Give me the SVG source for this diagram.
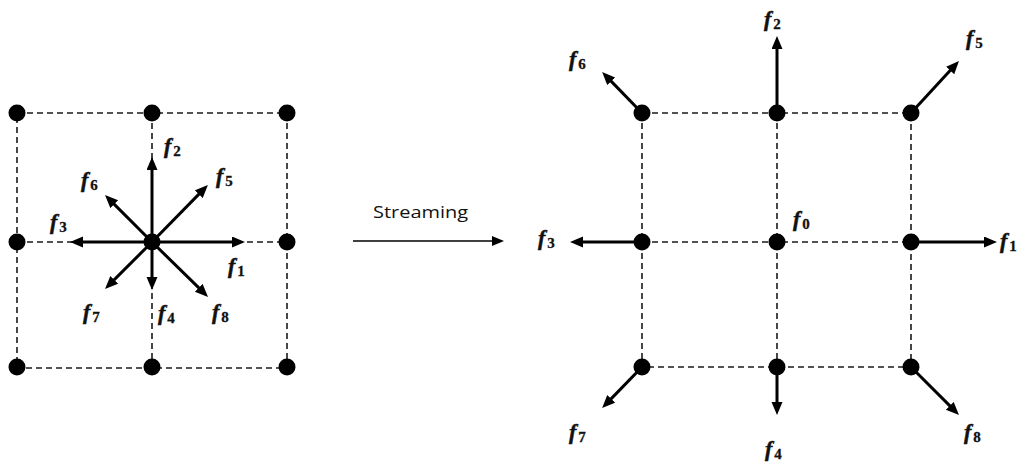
<svg xmlns="http://www.w3.org/2000/svg" width="1026" height="466" viewBox="0 0 1026 466">
<defs>
<style>
.grid{stroke:#1a1a1a;stroke-width:1.6;stroke-dasharray:6 4;fill:none}
.vec{stroke:#000;stroke-width:3;fill:none;marker-end:url(#ah)}
.thin{stroke:#000;stroke-width:1.4;fill:none;marker-end:url(#ah2)}
.dot{fill:#000}
.lbl{font-family:"Liberation Serif","DejaVu Serif",serif;font-style:italic;font-weight:bold;font-size:22px;fill:#111;stroke:#111;stroke-width:0.5}
.sub{font-style:normal;font-weight:bold;font-size:15px;stroke-width:0.3}
.cap{font-family:"Open Sans","Liberation Sans",sans-serif;font-size:17px;fill:#111}
</style>
<marker id="ah" markerUnits="userSpaceOnUse" markerWidth="14" markerHeight="12" refX="3" refY="5.5" orient="auto" viewBox="0 0 14 12">
<path d="M0,0 L13,5.5 L0,11 z" fill="#000"/>
</marker>
<marker id="ah2" markerUnits="userSpaceOnUse" markerWidth="14" markerHeight="12" refX="2" refY="5" orient="auto" viewBox="0 0 14 12">
<path d="M0,0 L12,5 L0,10 z" fill="#000"/>
</marker>
</defs>
<rect width="1026" height="466" fill="#fff"/>
<g id="connectors">
<g id="grid-left">
<rect class="grid" x="17" y="113" width="270" height="255"/>
<line class="grid" x1="152" y1="113" x2="152" y2="368"/>
<line class="grid" x1="17" y1="242" x2="287" y2="242"/>
</g>
<g id="grid-right">
<rect class="grid" x="642" y="113" width="269" height="254"/>
<line class="grid" x1="777" y1="113" x2="777" y2="367"/>
<line class="grid" x1="642" y1="242" x2="911" y2="242"/>
</g>
<g id="vectors-left">
<line class="vec" x1="152" y1="242" x2="152" y2="167"/>
<line class="vec" x1="152" y1="242" x2="152" y2="280"/>
<line class="vec" x1="152" y1="242" x2="235" y2="242"/>
<line class="vec" x1="152" y1="242" x2="80" y2="242"/>
<line class="vec" x1="152" y1="242" x2="200.9" y2="192.1"/>
<line class="vec" x1="152" y1="242" x2="112.1" y2="202.1"/>
<line class="vec" x1="152" y1="242" x2="112.1" y2="281.9"/>
<line class="vec" x1="152" y1="242" x2="200.9" y2="289.9"/>
</g>
<g id="vectors-right">
<line class="vec" x1="642" y1="113" x2="609.1" y2="79.1"/>
<line class="vec" x1="777" y1="113" x2="777" y2="46"/>
<line class="vec" x1="911" y1="113" x2="952.2" y2="68.3"/>
<line class="vec" x1="642" y1="242" x2="580" y2="242"/>
<line class="vec" x1="911" y1="242" x2="987" y2="242"/>
<line class="vec" x1="642" y1="367" x2="609.1" y2="400.9"/>
<line class="vec" x1="777" y1="367" x2="777" y2="405"/>
<line class="vec" x1="911" y1="367" x2="951.9" y2="407.9"/>
</g>
<g id="streaming-arrow">
<line class="thin" x1="353" y1="241" x2="494" y2="241"/>
</g>
</g>
<g id="nodes-left">
<g id="L00"><circle class="dot" cx="17" cy="113" r="8.5"/></g>
<g id="L10"><circle class="dot" cx="152" cy="113" r="8.5"/></g>
<g id="L20"><circle class="dot" cx="287" cy="113" r="8.5"/></g>
<g id="L01"><circle class="dot" cx="17" cy="242" r="8.5"/></g>
<g id="L11"><circle class="dot" cx="152" cy="242" r="8.5"/></g>
<g id="L21"><circle class="dot" cx="287" cy="242" r="8.5"/></g>
<g id="L02"><circle class="dot" cx="17" cy="367" r="8.5"/></g>
<g id="L12"><circle class="dot" cx="152" cy="367" r="8.5"/></g>
<g id="L22"><circle class="dot" cx="287" cy="367" r="8.5"/></g>
</g>
<g id="nodes-right">
<g id="R00"><circle class="dot" cx="642" cy="113" r="8.5"/></g>
<g id="R10"><circle class="dot" cx="777" cy="113" r="8.5"/></g>
<g id="R20"><circle class="dot" cx="911" cy="113" r="8.5"/></g>
<g id="R01"><circle class="dot" cx="642" cy="242" r="8.5"/></g>
<g id="R11"><circle class="dot" cx="777" cy="242" r="8.5"/></g>
<g id="R21"><circle class="dot" cx="911" cy="242" r="8.5"/></g>
<g id="R02"><circle class="dot" cx="642" cy="367" r="8.5"/></g>
<g id="R12"><circle class="dot" cx="777" cy="367" r="8.5"/></g>
<g id="R22"><circle class="dot" cx="911" cy="367" r="8.5"/></g>
</g>
<g id="labels-left">
<text class="lbl" x="164" y="153">f<tspan class="sub" dx="2" dy="3">2</tspan></text>
<text class="lbl" x="216" y="183">f<tspan class="sub" dx="2" dy="3">5</tspan></text>
<text class="lbl" x="81" y="187">f<tspan class="sub" dx="2" dy="3">6</tspan></text>
<text class="lbl" x="50" y="229">f<tspan class="sub" dx="2" dy="3">3</tspan></text>
<text class="lbl" x="228" y="273">f<tspan class="sub" dx="2" dy="3">1</tspan></text>
<text class="lbl" x="83" y="319">f<tspan class="sub" dx="2" dy="3">7</tspan></text>
<text class="lbl" x="158" y="320">f<tspan class="sub" dx="2" dy="3">4</tspan></text>
<text class="lbl" x="212" y="319">f<tspan class="sub" dx="2" dy="3">8</tspan></text>
</g>
<g id="labels-right">
<text class="lbl" x="764" y="26">f<tspan class="sub" dx="2" dy="3">2</tspan></text>
<text class="lbl" x="569" y="66">f<tspan class="sub" dx="2" dy="3">6</tspan></text>
<text class="lbl" x="966" y="45">f<tspan class="sub" dx="2" dy="3">5</tspan></text>
<text class="lbl" x="538" y="245">f<tspan class="sub" dx="2" dy="3">3</tspan></text>
<text class="lbl" x="793" y="226">f<tspan class="sub" dx="2" dy="3">0</tspan></text>
<text class="lbl" x="1000" y="248">f<tspan class="sub" dx="2" dy="3">1</tspan></text>
<text class="lbl" x="569" y="439">f<tspan class="sub" dx="2" dy="3">7</tspan></text>
<text class="lbl" x="765" y="456">f<tspan class="sub" dx="2" dy="3">4</tspan></text>
<text class="lbl" x="964" y="439">f<tspan class="sub" dx="2" dy="3">8</tspan></text>
</g>
<g id="caption">
<text class="cap" x="373" y="218" textLength="95" lengthAdjust="spacingAndGlyphs">Streaming</text>
</g>
</svg>
